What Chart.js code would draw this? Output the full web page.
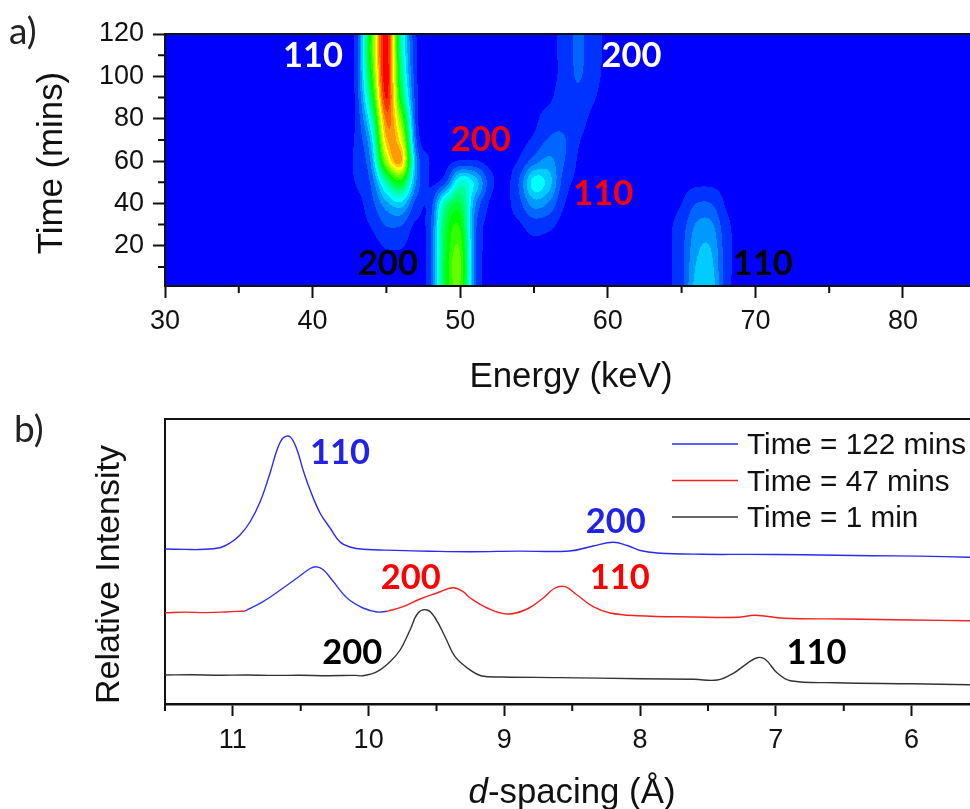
<!DOCTYPE html>
<html>
<head>
<meta charset="utf-8">
<title>Energy and d-spacing</title>
<script src="https://cdn.jsdelivr.net/npm/chart.js@4"></script>
<style>
    html, body { margin: 0; padding: 0; background: #fff; }
    #page { position: relative; width: 970px; height: 809px; overflow: hidden; }
    canvas { position: absolute; left: 0; filter: blur(0.35px); }
    #graficoA { top: 0; }
    #graficoB { top: 400px; }
    .painel { position: absolute; font: 37px Lato, sans-serif; color: #222; }
    .titulo { position: absolute; font: 34.8px "Liberation Sans", sans-serif; color: #111; white-space: nowrap; transform: translate(-50%, -50%); }
</style>
</head>
<body>
<div id="page">
    <canvas id="graficoA" width="970" height="400"></canvas>
    <canvas id="graficoB" width="970" height="409"></canvas>
    <div class="painel" style="left:9px;top:7px">a)</div>
    <div class="painel" style="left:14px;top:405px">b)</div>
    <div class="titulo" style="left:571px;top:375px">Energy (keV)</div>
    <div class="titulo" style="left:50px;top:163px;transform:translate(-50%,-50%) rotate(-90deg)">Time (mins)</div>
    <div class="titulo" style="left:572px;top:791px"><i>d</i>-spacing (Å)</div>
</div>
<script>
// panel a: intensity, 0 = blue, 0.25 = cyan, 0.5 = green, 0.75 = yellow, 1 = red
const energias = [42,43,44,45,46,47,48,49,50,51,52,53,54,55,56,57,58,59,60,61,62,63,64,65,66,67,68,69,70];
const tempos = [120,110,100,90,80,70,60,50,40,30,20,10,0];
const intensidades = [
    [0,.05,.55,1,.32,.02,0,0,0,0,0,0,0,0,0,.03,.075,.035,.005,0,0,0,0,0,0,0,0,0,0],
    [0,.05,.55,1,.34,.03,0,0,0,0,0,0,0,0,0,.03,.075,.035,.005,0,0,0,0,0,0,0,0,0,0],
    [0,.05,.5,1,.38,.03,0,0,0,0,0,0,0,0,0,.03,.07,.03,.005,0,0,0,0,0,0,0,0,0,0],
    [0,.04,.42,.97,.45,.04,0,0,0,0,0,0,0,0,.005,.045,.05,.02,0,0,0,0,0,0,0,0,0,0,0],
    [0,.03,.3,.88,.6,.05,0,0,0,0,0,0,0,.005,.04,.05,.035,.005,0,0,0,0,0,0,0,0,0,0,0],
    [0,.03,.2,.8,.72,.08,0,0,0,0,0,0,0,.025,.07,.07,.02,0,0,0,0,0,0,0,0,0,0,0,0],
    [0,.03,.14,.65,.82,.14,.01,0,.02,.02,0,0,.02,.09,.13,.07,.01,0,0,0,0,0,0,0,0,0,0,0,0],
    [0,.02,.08,.33,.48,.12,.01,.06,.28,.2,.04,0,.07,.24,.19,.045,.005,0,0,0,0,0,0,0,.005,.005,0,0,0],
    [0,0,.05,.15,.2,.05,.04,.33,.42,.13,.01,0,.05,.14,.11,.02,0,0,0,0,0,0,0,.015,.065,.065,.01,0,0],
    [0,0,.02,.07,.07,.01,.06,.42,.5,.09,0,0,.01,.04,.03,0,0,0,0,0,0,0,.005,.04,.12,.125,.03,0,0],
    [0,0,0,.02,.02,0,.06,.44,.55,.09,0,0,0,.005,0,0,0,0,0,0,0,0,.005,.05,.15,.16,.04,0,0],
    [0,0,0,0,0,0,.06,.46,.58,.09,0,0,0,0,0,0,0,0,0,0,0,0,.005,.05,.17,.18,.04,0,0],
    [0,0,0,0,0,0,.06,.45,.56,.09,0,0,0,0,0,0,0,0,0,0,0,0,.005,.05,.19,.2,.04,0,0]
];
const ticksEnergia = [30,40,50,60,70,80];
const ticksEnergiaMenor = [35,45,55,65,75];
const ticksTempo = [20,40,60,80,100,120];
const ticksTempoMenor = [10,30,50,70,90,110];

const rotulosA = ['110','200','200','110','200','110'];
const rotulosAx = [40.03,61.6,51.4,59.7,45.1,70.5];
const rotulosAy = [109.6,109.6,70,44.4,11.4,11.4];
const rotulosAcor = ['#fff','#fff','#f00','#f00','#000','#000'];

// panel b: traces
const d122 = [11.5,11.35,11.242,11.095,11.021,10.947,10.874,10.8,10.726,10.675,10.63,10.579,10.527,10.483,10.431,10.358,10.284,10.21,10.137,10.041,9.8,9.55,9.25,8.9,8.52,8.346,8.199,8.095,8,7.874,7.54,7.2,6.8,6.3,5.95,5.57];
const i122 = [155,154.6,154.5,156.3,161,169,182,202,231,254,266,267.3,254,234,214,191,176,162,157,154.7,153.6,152.8,152.3,152.9,153,158,161.7,158.5,153.5,151,149.7,149.6,149.3,148.3,147.9,146.7];

const d47a = [11.5,11.35,11.2,11.05,10.91];
const i47a = [91.3,91.9,91.4,92,93];
const d47b = [10.91,10.778,10.63,10.527,10.431,10.387,10.336,10.269,10.159,10.041,9.938,9.864];
const i47b = [93,102.3,116,126,135.5,137.3,134.5,124,106,96,92,92.7];
const d47c = [9.864,9.746,9.621,9.496,9.378,9.304,9.252,9.127,8.98,8.832,8.714,8.626,8.552,8.464,8.346,8.221,8.022,7.6,7.28,7.15,6.94,6.5,6,5.57];
const i47c = [92.7,97.3,105,111,116.3,112.3,106,96,90,95,106,116,117.3,109,97.3,91,88.3,87,86.7,88.7,85.7,85,84,83.3];

const d1 = [11.5,11.3,11.1,10.9,10.7,10.5,10.3,10.1,10.041,9.938,9.842,9.768,9.695,9.636,9.569,9.51,9.437,9.363,9.252,9.164,9.009,8.6,8,7.6,7.432,7.314,7.211,7.137,7.079,6.99,6.894,6.56,6,5.57];
const i1 = [29,29.2,28.8,29,28.6,28.7,28.3,28.6,28.3,32.3,42.3,54,74,91,94,86,67.3,47.3,34,28,27,26.4,25.3,24.7,24,30.7,40.7,46.3,44.7,31,23.3,21.3,20.2,19.3];

const ticksD = [11,10,9,8,7,6];
const ticksDMenor = [11.5,10.5,9.5,8.5,7.5,6.5];

const rotulosB = ['110','200','200','110','200','110'];
const rotulosBx = [10.21,8.18,9.69,8.15,10.12,6.7];
const rotulosBy = [251,182,126,126,51,51];
const rotulosBcor = ['#2222e6','#2222e6','#f00','#f00','#000','#000'];

const nomesLegenda = ['Time = 122 mins','Time = 47 mins','Time = 1 min'];
const coresLegenda = ['#2a2af0','#f52020','#333333'];

const FONTE = '"Liberation Sans", Arial, sans-serif';

function pontos(xs, ys) {
    return xs.map((x, i) => ({ x: x, y: ys[i] }));
}

function valorGrade(c, l) {
    if (c < 0 || c >= energias.length) return 0;
    const lin = Math.max(0, Math.min(tempos.length - 1, l));
    return intensidades[lin][c];
}

function catmull(a, b, c, d, t) {
    return b + 0.5 * t * (c - a + t * (2 * a - 5 * b + 4 * c - d + t * (3 * (b - c) + d - a)));
}

function amostra(energia, tempo) {
    const cx = energia - energias[0];
    const ly = (tempos[0] - tempo) / 10;
    const c0 = Math.floor(cx), l0 = Math.floor(ly);
    const linhas = [];
    for (let l = l0 - 1; l <= l0 + 2; l++) {
        linhas.push(catmull(valorGrade(c0 - 1, l), valorGrade(c0, l), valorGrade(c0 + 1, l), valorGrade(c0 + 2, l), cx - c0));
    }
    return catmull(linhas[0], linhas[1], linhas[2], linhas[3], ly - l0);
}

// contour style colours, 20 flat bands
function corBanda(v) {
    const n = Math.max(0, Math.min(20, Math.ceil((v - 0.015) * 20))) / 20;
    if (n <= 0.25) return [0, Math.round(n * 4 * 255), 255];
    if (n <= 0.5) return [0, 255, Math.round((0.5 - n) * 4 * 255)];
    if (n <= 0.75) return [Math.round((n - 0.5) * 4 * 255), 255, 0];
    return [255, Math.round((1 - n) * 4 * 255), 0];
}

const mapaPlugin = {
    id: 'mapa',
    beforeDraw(chart) {
        const a = chart.chartArea, ctx = chart.ctx;
        const w = Math.round(a.right - a.left), h = Math.round(a.bottom - a.top);
        const tmp = document.createElement('canvas');
        tmp.width = w;
        tmp.height = h;
        const tctx = tmp.getContext('2d');
        const img = tctx.createImageData(w, h);
        for (let j = 0; j < h; j++) {
            const t = chart.scales.y.getValueForPixel(a.top + j + 0.5);
            for (let i = 0; i < w; i++) {
                const e = chart.scales.x.getValueForPixel(a.left + i + 0.5);
                const cor = corBanda(amostra(e, t));
                const p = (j * w + i) * 4;
                img.data[p] = cor[0];
                img.data[p + 1] = cor[1];
                img.data[p + 2] = cor[2];
                img.data[p + 3] = 255;
            }
        }
        tctx.putImageData(img, 0, 0);
        ctx.drawImage(tmp, a.left, a.top);
    }
};

// minor ticks, top frame line and the peak labels
const extrasPlugin = {
    id: 'extras',
    afterDraw(chart, args, opts) {
        const ctx = chart.ctx, a = chart.chartArea;
        const sx = chart.scales.x, sy = chart.scales.y;
        ctx.save();
        ctx.strokeStyle = '#111';
        ctx.lineWidth = 2;
        ctx.beginPath();
        ctx.moveTo(a.left, a.top);
        ctx.lineTo(a.right, a.top);
        (opts.menorX || []).forEach(v => {
            const p = sx.getPixelForValue(v);
            ctx.moveTo(p, a.bottom);
            ctx.lineTo(p, a.bottom + 7);
        });
        (opts.menorY || []).forEach(v => {
            const p = sy.getPixelForValue(v);
            ctx.moveTo(a.left, p);
            ctx.lineTo(a.left - 7, p);
        });
        ctx.stroke();
        ctx.font = 'bold 34.5px Lato, sans-serif';
        ctx.textAlign = 'center';
        ctx.textBaseline = 'middle';
        opts.textos.forEach((t, i) => {
            ctx.fillStyle = opts.cores[i];
            ctx.fillText(t, sx.getPixelForValue(opts.xs[i]), sy.getPixelForValue(opts.ys[i]));
        });
        ctx.restore();
    }
};

const legendaPlugin = {
    id: 'legenda',
    afterDraw(chart) {
        const ctx = chart.ctx;
        ctx.save();
        ctx.font = '29.7px ' + FONTE;
        ctx.textBaseline = 'middle';
        nomesLegenda.forEach((nome, i) => {
            const y = 44 + i * 36.5;
            ctx.strokeStyle = coresLegenda[i];
            ctx.lineWidth = 1.4;
            ctx.beginPath();
            ctx.moveTo(672, y);
            ctx.lineTo(738, y);
            ctx.stroke();
            ctx.fillStyle = '#111';
            ctx.fillText(nome, 747, y + 2);
        });
        ctx.restore();
    }
};

function eixoBase(largura, folga) {
    return {
        border: { display: true, color: '#111', width: largura },
        grid: { drawOnChartArea: false, tickLength: 12, tickWidth: 2, tickColor: '#111' },
        ticks: { color: '#111', padding: folga, font: { family: FONTE, size: 27 }, autoSkip: false, maxRotation: 0 }
    };
}

new Chart(document.getElementById('graficoA').getContext('2d'), {
    type: 'scatter',
    data: {
        datasets: [{
            label: 'Intensity',
            data: tempos.flatMap((t, l) => energias.map((e, c) => ({ x: e, y: t, v: intensidades[l][c] }))),
            pointRadius: 0
        }]
    },
    plugins: [mapaPlugin, extrasPlugin],
    options: {
        responsive: false,
        animation: false,
        layout: { padding: { top: 34, right: 0, left: 0, bottom: 0 } },
        plugins: {
            legend: { display: false },
            tooltip: { enabled: false },
            extras: { menorX: ticksEnergiaMenor, menorY: ticksTempoMenor, textos: rotulosA, xs: rotulosAx, ys: rotulosAy, cores: rotulosAcor }
        },
        scales: {
            x: Object.assign(eixoBase(2, 7), {
                type: 'linear', min: 30, max: 84.54,
                afterBuildTicks: s => { s.ticks = ticksEnergia.map(v => ({ value: v })); },
                afterFit: s => { s.height = 114; }
            }),
            y: Object.assign(eixoBase(2, 9), {
                type: 'linear', min: 1, max: 120,
                afterBuildTicks: s => { s.ticks = ticksTempo.map(v => ({ value: v })); },
                afterFit: s => { s.width = 165; }
            })
        }
    }
});

function traco(nome, xs, ys, cor) {
    return {
        label: nome,
        data: pontos(xs, ys),
        showLine: true,
        borderColor: cor,
        borderWidth: 1.4,
        pointRadius: 0,
        tension: 0.4
    };
}

new Chart(document.getElementById('graficoB').getContext('2d'), {
    type: 'scatter',
    data: {
        datasets: [
            traco('Time = 122 mins', d122, i122, coresLegenda[0]),
            traco('Time = 47 mins', d47a, i47a, coresLegenda[1]),
            traco('Time = 47 mins (110)', d47b, i47b, '#2a3ae6'),
            traco('Time = 47 mins (200)', d47c, i47c, coresLegenda[1]),
            traco('Time = 1 min', d1, i1, coresLegenda[2])
        ]
    },
    plugins: [extrasPlugin, legendaPlugin],
    options: {
        responsive: false,
        animation: false,
        layout: { padding: { top: 19, right: 0, left: 0, bottom: 0 } },
        plugins: {
            legend: { display: false },
            tooltip: { enabled: false },
            extras: { menorX: ticksDMenor, textos: rotulosB, xs: rotulosBx, ys: rotulosBy, cores: rotulosBcor }
        },
        scales: {
            x: Object.assign(eixoBase(2.5, 8), {
                type: 'linear', reverse: true, min: 5.57, max: 11.5,
                afterBuildTicks: s => { s.ticks = ticksD.map(v => ({ value: v })); },
                afterFit: s => { s.height = 105; }
            }),
            y: {
                type: 'linear', min: 0, max: 285,
                border: { display: true, color: '#111', width: 2 },
                grid: { display: false },
                ticks: { display: false },
                afterFit: s => { s.width = 165; },
                title: { display: true, text: 'Relative Intensity', align: 'start', color: '#111', font: { family: FONTE, size: 34 }, padding: { top: 89, bottom: 0 } }
            }
        }
    }
});
</script>
</body>
</html>
